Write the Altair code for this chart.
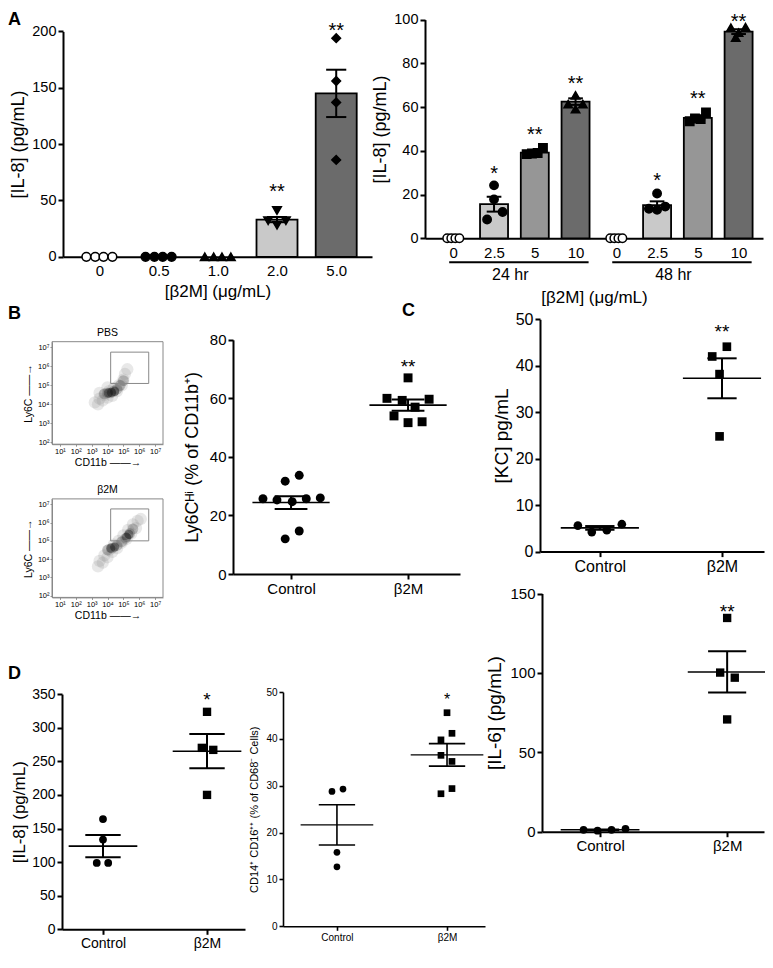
import altair as alt
import pandas as pd

FONT = "Liberation Sans"
SUP = "['⁰','¹','²','³','⁴','⁵','⁶','⁷'][datum.value]"

# ===================== DATA =====================
# Panel A, left: IL-8 vs beta2M dose
a1_dose = ["0", "0.5", "1.0", "2.0", "5.0"]
a1_mean = [0, 0, 0, 33, 145]
a1_sem = [0, 0, 0, 2.3, 21]
a1_pts = [[0, 0, 0, 0], [0, 0, 0, 0], [0, 0, 0, 0], [41, 32, 32, 28], [194, 156, 137, 86]]
a1_spread = [[-0.22, -0.07, 0.07, 0.22], [-0.22, -0.07, 0.07, 0.22], [-0.22, -0.07, 0.07, 0.22],
             [0, -0.15, 0.15, 0], [0, 0, 0, 0]]
a1_sig = ["", "", "", "**", "**"]
a1_sig_at = [0, 0, 0, 62, 205]

# Panel A, right: IL-8 at 24 hr / 48 hr
a2_dose = ["0", "2.5", "5", "10", "0", "2.5", "5", "10"]
a2_time = ["24 hr", "48 hr"]
a2_time_first = [0, 4]
a2_time_last = [3, 7]
a2_mean = [0, 15.6, 39.2, 62.5, 0, 15.2, 55.1, 94.5]
a2_sem = [0, 3.4, 0.6, 1.5, 0, 1.7, 0.8, 1.1]
a2_pts = [[0, 0, 0, 0], [24.2, 17.8, 12.0, 8.6], [38.5, 38.8, 39.0, 41.3], [65.4, 61.4, 61.4, 59.1],
          [0, 0, 0, 0], [20.5, 13.5, 13.0, 14.5], [53.5, 54.8, 54.5, 57.5], [96.3, 96.6, 94.0, 91.8]]
a2_spread = [[-0.15, -0.05, 0.05, 0.15], [0, 0, 0.21, -0.17], [-0.2, -0.07, 0.07, 0.2], [0, -0.18, 0.18, 0],
             [-0.15, -0.05, 0.05, 0.15], [0, -0.2, 0, 0.2], [-0.2, -0.07, 0.07, 0.2], [-0.19, 0.17, 0, -0.07]]
a2_sig = ["", "*", "**", "**", "", "*", "**", "**"]
a2_sig_at = [0, 31.6, 49.5, 73, 0, 28.7, 65.8, 101]

# Panel B, flow plots (log10 units): density blobs and gate
flow_x_dom = [0.5, 7.5]
flow_y_dom = [1.9, 7.3]
pbs_lx = [3.2, 3.4, 3.5, 3.7, 3.8, 4.0, 4.1, 4.3, 4.4, 4.6, 4.7, 4.9, 5.0, 5.1, 5.25, 3.5, 4.0,
          3.8, 4.0, 4.2, 4.4, 4.6, 4.8, 5.0,
          4.05, 4.25, 4.45]
pbs_ly = [4.1, 4.0, 4.3, 4.2, 4.5, 4.35, 4.7, 4.45, 4.85, 4.7, 5.0, 5.0, 5.3, 5.6, 5.85, 4.6, 4.9,
          4.55, 4.6, 4.6, 4.7, 4.8, 5.0, 5.25,
          4.6, 4.62, 4.68]
pbs_lev = [1] * 17 + [2] * 7 + [3] * 3
pbs_gate_x = [4.2, 6.6]
pbs_gate_y = [5.1, 6.75]
b2m_lx = [3.4, 3.5, 3.7, 3.8, 4.0, 4.1, 4.3, 4.4, 4.6, 4.7, 4.9, 5.0, 5.2, 5.3, 5.5, 5.6, 5.8, 5.9, 6.1,
          4.0, 4.3, 4.6, 4.9, 5.15, 5.4, 5.6,
          4.2, 4.45, 5.2, 5.35]
b2m_ly = [3.6, 3.9, 3.8, 4.2, 4.1, 4.5, 4.4, 4.8, 4.6, 5.0, 4.9, 5.3, 5.1, 5.6, 5.4, 5.9, 5.7, 6.1, 6.2,
          4.5, 4.6, 4.75, 4.95, 5.15, 5.4, 5.65,
          4.6, 4.66, 5.2, 5.35]
b2m_lev = [1] * 19 + [2] * 7 + [3] * 4
b2m_gate_x = [4.2, 6.6]
b2m_gate_y = [5.0, 6.75]

# Panel B, Ly6C-hi scatter
b_ctrl = [25.7, 25.3, 24.7, 25.7, 26.0, 31.7, 33.7, 12.0, 14.7]
b_ctrl_dx = [-0.24, -0.12, 0.01, 0.13, 0.25, -0.05, 0.07, -0.05, 0.07]
b_trt = [67, 60, 59.3, 59.7, 57, 54, 51.7, 52]
b_trt_dx = [0, -0.18, -0.05, 0.18, 0.06, -0.12, 0, 0.12]
b_mean = [24.4, 57.7]
b_sem = [2.2, 1.9]

# Panel C, KC
c_ctrl = [5.6, 4.2, 4.6, 5.9]
c_ctrl_dx = [-0.18, -0.066, 0.057, 0.18]
c_trt = [42, 44.1, 38.2, 24.8]
c_trt_dx = [-0.08, 0.04, -0.02, -0.02]
c_mean = [5.1, 37.3]
c_sem = [0.4, 4.3]

# Panel C, IL-6
e_ctrl = [1.2, 0.6, 1.2, 1.8]
e_ctrl_dx = [-0.13, -0.02, 0.09, 0.2]
e_trt = [134.6, 100.2, 97, 70.7]
e_trt_dx = [0, -0.055, 0.06, 0]
e_mean = [1.2, 100.6]
e_sem = [0.25, 13]

# Panel D, IL-8
d1_ctrl = [164, 133.5, 98.7, 98.7]
d1_ctrl_dx = [0, 0, -0.06, 0.05]
d1_trt = [323.6, 270, 267, 200]
d1_trt_dx = [0, -0.05, 0.06, 0]
d1_mean = [123.7, 265]
d1_sem = [16.5, 25.5]

# Panel D, CD14+ CD16++
d2_ctrl = [28.8, 29.3, 15.8, 12.7]
d2_ctrl_dx = [-0.045, 0.055, 0, 0]
d2_trt = [45.6, 41.2, 39.8, 36.5, 35.2, 28.3, 29.4]
d2_trt_dx = [0, 0.045, -0.055, -0.055, 0.045, -0.055, 0.045]
d2_mean = [21.65, 36.6]
d2_sem = [4.3, 2.4]

# ===================== STYLES =====================
A1_SHAPE = {"0": "circle", "0.5": "circle", "1.0": "triangle-up", "2.0": "triangle-down", "5.0": "diamond"}
A1_FILL = {"0": "white", "0.5": "black", "1.0": "black", "2.0": "black", "5.0": "black"}
A1_BAR = {"0": "#ffffff", "0.5": "#ffffff", "1.0": "#ffffff", "2.0": "#c9c9c9", "5.0": "#6b6b6b"}
A2_SHAPE = {"0": "circle", "2.5": "circle", "5": "square", "10": "triangle-up"}
A2_FILL = {"0": "white", "2.5": "black", "5": "black", "10": "black"}
A2_BAR = {"0": "#ffffff", "2.5": "#c9c9c9", "5": "#969696", "10": "#6b6b6b"}

W, H = 757, 946


def cx(x):  # layout helper: reference-figure x -> canvas px
    return round(x - 8, 1)


def cy(y):  # layout helper: reference-figure y -> canvas px
    return round(y * 0.976 - 3, 1)


# panel frames (plot-area boxes) in canvas px: x0, x1, top, bottom
BOX = {
    "A1": (cx(63), cx(372), cy(27), cy(258)),
    "A2": (cx(425), cx(763), cy(15), cy(239)),
    "PBS": (cx(52), cx(163), cy(345), cy(450)),
    "B2M": (cx(52), cx(163), cy(506), cy(607)),
    "BSC": (cx(233), cx(460), cy(343), cy(583)),
    "C": (cx(540), cx(764), cy(322), cy(560)),
    "IL6": (cx(542), cx(764), cy(603), cy(847)),
    "D1": (cx(62), cx(245), cy(706), cy(947)),
    "D2": (cx(283), cx(485), cy(704), cy(944)),
}


def lbl_expr(names):
    return "[" + ",".join("'" + s + "'" for s in names) + "][datum.value]"


def scales(box, xdom, ydom):
    x0, x1, top, bot = box
    xs = alt.Scale(domain=xdom, range=[x0, x1], nice=False, zero=False)
    ys = alt.Scale(domain=ydom, range=[bot, top], nice=False, zero=False)
    return xs, ys


def bar_panel(box, doses, means, sems, pts, spread, sig, sig_at, shape_map, fill_map, bar_map,
              ydom, yvals, xdom, bar_w, cap_half, pt_size, ytitle, xtitle, xtitle_pad, groups=None):
    x0, x1, top, bot = box
    n = len(doses)
    summ = pd.DataFrame({"i": list(range(n)), "dose": doses, "mean": means, "sem": sems,
                         "sig": sig, "sig_at": sig_at})
    summ["barfill"] = summ["dose"].map(bar_map)
    rows = []
    for i, (d, vals, offs) in enumerate(zip(doses, pts, spread)):
        for v, o in zip(vals, offs):
            rows.append({"x": i + o, "y": v, "shape": shape_map[d], "fill": fill_map[d]})
    ptsdf = pd.DataFrame(rows)
    xs, ys = scales(box, xdom, ydom)
    xa = alt.Axis(values=list(range(n)), labelExpr=lbl_expr(doses), tickSize=0, labelPadding=7,
                  labelFontSize=15, title=xtitle, titleFontSize=17, titlePadding=xtitle_pad,
                  labelFlush=False, labelOverlap=False, orient="bottom", offset=bot - H)
    ya = alt.Axis(values=yvals, title=ytitle, titleFontSize=18, labelFontSize=14.5, titlePadding=4,
                  orient="left", offset=-x0)

    def X(f):
        return alt.X(f, type="quantitative", scale=xs, axis=xa)

    def Y(f):
        return alt.Y(f, type="quantitative", scale=ys, axis=ya)

    bars = alt.Chart(summ).transform_filter("datum.mean > 0").mark_bar(
        size=bar_w, stroke="black", strokeWidth=1.8).encode(
        x=X("i"), y=Y("mean"), y2=alt.datum(0), fill=alt.Fill("barfill:N", scale=None))
    vbar = alt.Chart(summ).transform_filter("datum.sem > 0").transform_calculate(
        lo="datum.mean - datum.sem", hi="datum.mean + datum.sem").mark_rule(
        color="black", strokeWidth=2).encode(x=X("i"), y=Y("lo"), y2="hi")
    caps = alt.Chart(summ).transform_filter("datum.sem > 0").transform_calculate(
        lo="datum.mean - datum.sem", hi="datum.mean + datum.sem",
        cl="datum.i - %f" % cap_half, cr="datum.i + %f" % cap_half).transform_fold(
        ["lo", "hi"], as_=["k", "v"]).mark_rule(color="black", strokeWidth=2).encode(
        x=X("cl"), x2="cr", y=Y("v"))
    dots = alt.Chart(ptsdf).mark_point(filled=True, opacity=1, size=pt_size, strokeWidth=1.5).encode(
        x=X("x"), y=Y("y"),
        shape=alt.Shape("shape:N", scale=None),
        fill=alt.Fill("fill:N", scale=None),
        stroke=alt.value("black"))
    stars = alt.Chart(summ).mark_text(fontSize=20, font=FONT, baseline="middle", dy=5,
                                      color="black").encode(x=X("i"), y=Y("sig_at"), text="sig:N")
    layers = [bars, vbar, caps, dots, stars]
    if groups is not None:
        names, first, last = groups
        gdf = pd.DataFrame({"g": names, "first": first, "last": last})
        uline = alt.Chart(gdf).transform_calculate(
            gl="datum.first - 0.1", gr="datum.last + 0.32").mark_rule(
            color="black", strokeWidth=2).encode(x=X("gl"), x2="gr", y=alt.value(bot + 24))
        gtext = alt.Chart(gdf).transform_calculate(gc="datum.first + 1.4").mark_text(
            fontSize=16, font=FONT, color="black", baseline="middle").encode(
            x=X("gc"), y=alt.value(bot + 37), text="g:N")
        layers += [uline, gtext]
    return alt.layer(*layers)


def dot_panel(box, ctrl, ctrl_dx, trt, trt_dx, mean, sem, sig, sig_at, ydom, yvals, ytitle, xdom,
              mean_half, cap_half, sizes, fs_lab, fs_title, fs_star, lw=2, title_pad=5, tick=5):
    x0, x1, top, bot = box
    cdf = pd.DataFrame({"x": [d for d in ctrl_dx], "y": ctrl})
    tdf = pd.DataFrame({"x": [1 + d for d in trt_dx], "y": trt})
    summ = pd.DataFrame({"i": [0, 1], "mean": mean, "sem": sem, "sig": sig, "sig_at": sig_at})
    xs, ys = scales(box, xdom, ydom)
    xa = alt.Axis(values=[0, 1], labelExpr="datum.value == 0 ? 'Control' : 'β2M'", title=None,
                  tickSize=tick, labelFontSize=fs_lab, labelPadding=2, domainWidth=lw, tickWidth=lw,
                  labelFlush=False, labelOverlap=False, orient="bottom", offset=bot - H)
    ya = alt.Axis(values=yvals, title=ytitle, titleFontSize=fs_title, labelFontSize=fs_lab,
                  titlePadding=title_pad, tickSize=tick, domainWidth=lw, tickWidth=lw,
                  orient="left", offset=-x0)

    def X(f):
        return alt.X(f, type="quantitative", scale=xs, axis=xa)

    def Y(f):
        return alt.Y(f, type="quantitative", scale=ys, axis=ya)

    mline = alt.Chart(summ).transform_calculate(
        ml="datum.i - %f" % mean_half, mr="datum.i + %f" % mean_half).mark_rule(
        color="black", strokeWidth=lw * 0.8).encode(x=X("ml"), x2="mr", y=Y("mean"))
    vbar = alt.Chart(summ).transform_calculate(
        lo="datum.mean - datum.sem", hi="datum.mean + datum.sem").mark_rule(
        color="black", strokeWidth=lw).encode(x=X("i"), y=Y("lo"), y2="hi")
    caps = alt.Chart(summ).transform_calculate(
        lo="datum.mean - datum.sem", hi="datum.mean + datum.sem",
        cl="datum.i - %f" % cap_half, cr="datum.i + %f" % cap_half).transform_fold(
        ["lo", "hi"], as_=["k", "v"]).mark_rule(color="black", strokeWidth=lw).encode(
        x=X("cl"), x2="cr", y=Y("v"))
    cd = alt.Chart(cdf).mark_point(filled=True, opacity=1, shape="circle", size=sizes[0],
                                   color="black").encode(x=X("x"), y=Y("y"))
    td = alt.Chart(tdf).mark_point(filled=True, opacity=1, shape="square", size=sizes[1],
                                   color="black").encode(x=X("x"), y=Y("y"))
    stars = alt.Chart(summ).mark_text(fontSize=fs_star, font=FONT, baseline="middle",
                                      dy=fs_star * 0.24, color="black").encode(
        x=X("i"), y=Y("sig_at"), text="sig:N")
    return alt.layer(mline, vbar, caps, cd, td, stars)


def flow_panel(box, lx, ly, lev, gx, gy, name):
    blobs = pd.DataFrame({"lx": lx, "ly": ly, "lev": lev})
    gate = pd.DataFrame({"x1": [gx[0]], "x2": [gx[1]], "y1": [gy[0]], "y2": [gy[1]]})
    frame = pd.DataFrame({"x1": [flow_x_dom[0]], "x2": [flow_x_dom[1]],
                          "y1": [flow_y_dom[0]], "y2": [flow_y_dom[1]],
                          "xm": [(flow_x_dom[0] + flow_x_dom[1]) / 2], "name": [name]})
    x0, x1, top, bot = box
    xs, ys = scales(box, flow_x_dom, flow_y_dom)
    xa = alt.Axis(values=[1, 2, 3, 4, 5, 6, 7], labelExpr="'10' + " + SUP, labelFontSize=7.5,
                  tickSize=2, tickWidth=0.8, tickColor="#777", domainColor="#888", domainWidth=1,
                  labelPadding=1, title="CD11b ——→", titleFontSize=10.5, titlePadding=3,
                  labelFlush=False, labelOverlap=False, orient="bottom", offset=bot - H)
    ya = alt.Axis(values=[2, 3, 4, 5, 6, 7], labelExpr="'10' + " + SUP, labelFontSize=7.5,
                  tickSize=2, tickWidth=0.8, tickColor="#777", domainColor="#888", domainWidth=1,
                  labelPadding=1, title="Ly6C ——→", titleFontSize=10.5, titlePadding=4,
                  labelOverlap=False, orient="left", offset=-x0)

    def X(f):
        return alt.X(f, type="quantitative", scale=xs, axis=xa)

    def Y(f):
        return alt.Y(f, type="quantitative", scale=ys, axis=ya)

    b = alt.Chart(blobs).mark_circle(strokeWidth=0).encode(
        x=X("lx"), y=Y("ly"),
        size=alt.Size("lev:O", scale=alt.Scale(domain=[1, 2, 3], range=[150, 85, 45]), legend=None),
        color=alt.Color("lev:O", scale=alt.Scale(domain=[1, 2, 3], range=["#8a8a8a", "#444444", "#0a0a0a"]),
                        legend=None),
        opacity=alt.Opacity("lev:O", scale=alt.Scale(domain=[1, 2, 3], range=[0.2, 0.35, 0.85]), legend=None),
        order=alt.Order("lev:Q"))
    g = alt.Chart(gate).mark_rect(fill="transparent", stroke="#888", strokeWidth=1).encode(
        x=X("x1"), x2="x2", y=Y("y1"), y2="y2")
    f = alt.Chart(frame).mark_rect(fill="transparent", stroke="#888", strokeWidth=1).encode(
        x=X("x1"), x2="x2", y=Y("y1"), y2="y2")
    t = alt.Chart(frame).mark_text(fontSize=10.5, font=FONT, baseline="bottom", dy=-4,
                                   color="black").encode(x=X("xm"), y=Y("y2"), text="name:N")
    return alt.layer(b, g, f, t)


def letter(t, x, y):
    return alt.Chart(pd.DataFrame({"t": [t]})).mark_text(
        fontSize=18, fontWeight="bold", font=FONT, align="left", baseline="alphabetic",
        color="black").encode(text="t:N", x=alt.value(x), y=alt.value(y))


# ===================== PANELS =====================
A_left = bar_panel(BOX["A1"], a1_dose, a1_mean, a1_sem, a1_pts, a1_spread, a1_sig, a1_sig_at,
                   A1_SHAPE, A1_FILL, A1_BAR, [0, 200], [0, 50, 100, 150, 200], [-0.53, 4.52],
                   41, 0.17, 75, "[IL-8] (pg/mL)", "[β2M] (μg/mL)", 5)
A_right = bar_panel(BOX["A2"], a2_dose, a2_mean, a2_sem, a2_pts, a2_spread, a2_sig, a2_sig_at,
                    A2_SHAPE, A2_FILL, A2_BAR, [0, 100], [0, 20, 40, 60, 80, 100], [-0.571, 7.476],
                    28, 0.18, 70, "[IL-8] (pg/mL)", "[β2M] (μg/mL)", 29,
                    groups=(a2_time, a2_time_first, a2_time_last))

PBS = flow_panel(BOX["PBS"], pbs_lx, pbs_ly, pbs_lev, pbs_gate_x, pbs_gate_y, "PBS")
B2M = flow_panel(BOX["B2M"], b2m_lx, b2m_ly, b2m_lev, b2m_gate_x, b2m_gate_y, "β2M")

B_sc = dot_panel(BOX["BSC"], b_ctrl, b_ctrl_dx, b_trt, b_trt_dx, b_mean, b_sem, ["", "**"], [0, 72.3],
                 [0, 80], [0, 20, 40, 60, 80], "Ly6Cᴴⁱ (% of CD11b⁺)", [-0.496, 1.444],
                 0.33, 0.14, [80, 80], 15, 18, 19, title_pad=8)
C_kc = dot_panel(BOX["C"], c_ctrl, c_ctrl_dx, c_trt, c_trt_dx, c_mean, c_sem, ["", "**"], [0, 48.3],
                 [0, 50], [0, 10, 20, 30, 40, 50], "[KC] pg/mL", [-0.49, 1.344],
                 0.32, 0.12, [75, 75], 16, 19, 19, title_pad=4)
C_il6 = dot_panel(BOX["IL6"], e_ctrl, e_ctrl_dx, e_trt, e_trt_dx, e_mean, e_sem, ["", "**"], [0, 141],
                  [0, 150], [0, 50, 100, 150], "[IL-6] (pg/mL)", [-0.457, 1.29],
                  0.31, 0.15, [60, 70], 15, 19, 19, title_pad=5)
D_il8 = dot_panel(BOX["D1"], d1_ctrl, d1_ctrl_dx, d1_trt, d1_trt_dx, d1_mean, d1_sem, ["", "*"], [0, 348],
                  [0, 350], [0, 50, 100, 150, 200, 250, 300, 350], "[IL-8] (pg/mL)",
                  [-0.394, 1.365], 0.33, 0.17, [60, 70], 14, 17, 19, title_pad=3)
D_cd = dot_panel(BOX["D2"], d2_ctrl, d2_ctrl_dx, d2_trt, d2_trt_dx, d2_mean, d2_sem, ["", "*"], [0, 49.2],
                 [0, 50], [0, 10, 20, 30, 40, 50], "CD14⁺ CD16⁺⁺ (% of CD68⁻ Cells)",
                 [-0.49, 1.345], 0.33, 0.165, [45, 45], 10, 11, 16, lw=1.6, title_pad=6, tick=4)

letters = [letter("A", 0, cy(20)), letter("B", 0, cy(322)),
           letter("C", cx(402), cy(319)), letter("D", 0, cy(691))]

chart = alt.layer(A_left, A_right, PBS, B2M, B_sc, C_kc, C_il6, D_il8, D_cd, *letters).resolve_scale(
    x="independent", y="independent").properties(
    width=W, height=H, padding=0, autosize=alt.AutoSizeParams(type="none")).configure_axis(
    domainColor="black", domainWidth=2, tickColor="black", tickWidth=2, tickSize=5,
    labelColor="black", titleColor="black", labelFont=FONT, titleFont=FONT,
    titleFontWeight="normal", grid=False).configure_view(stroke="transparent").configure_text(font=FONT)

chart.save("out.html", embed_options={"renderer": "svg", "actions": False})
